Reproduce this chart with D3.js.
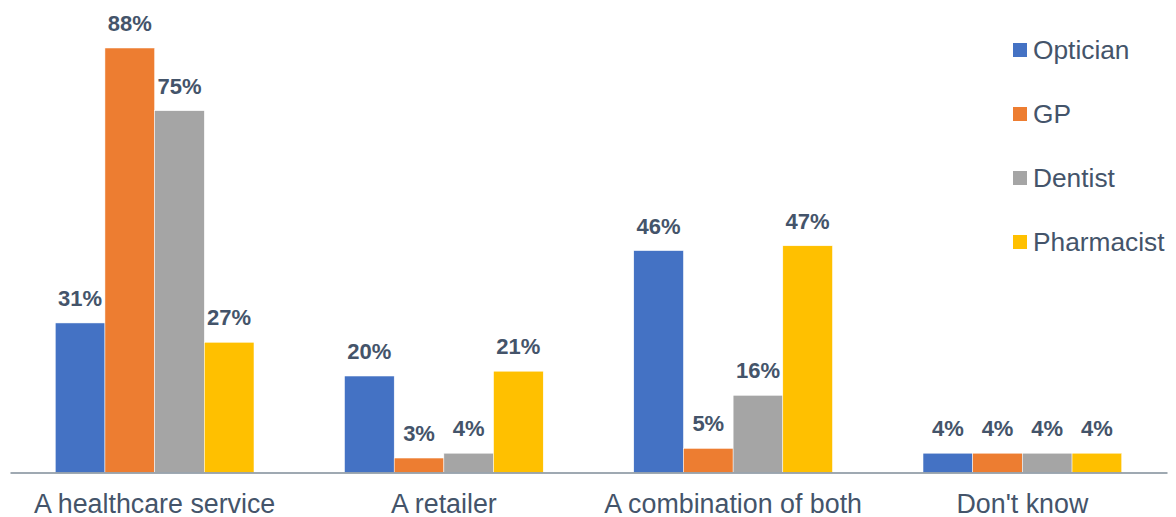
<!DOCTYPE html>
<html>
<head>
<meta charset="utf-8">
<script src="https://cdn.jsdelivr.net/npm/d3@7"></script>
<style>
  body { margin: 0; background: #fff; }
  svg { display: block; font-family: "Liberation Sans", Arial, sans-serif; }
</style>
</head>
<body>
<svg id="chart" width="1176" height="517"></svg>
<script>
// data
const categories = ["A healthcare service", "A retailer", "A combination of both", "Don't know"];
const seriesNames = ["Optician", "GP", "Dentist", "Pharmacist"];
const optician = [31, 20, 46, 4];
const gp = [88, 3, 5, 4];
const dentist = [75, 4, 16, 4];
const pharmacist = [27, 21, 47, 4];
const seriesColors = ["#4472C4", "#ED7D31", "#A5A5A5", "#FFC000"];

const series = [optician, gp, dentist, pharmacist];
const textColor = "#44546A";

const svg = d3.select("#chart");

const x0 = d3.scaleBand()
  .domain(categories)
  .range([10, 1167])
  .paddingInner(0.313)
  .paddingOuter(0.1565);

const x1 = d3.scaleBand()
  .domain(seriesNames)
  .range([0, x0.bandwidth()]);

const y = d3.scaleLinear()
  .domain([0, 88])
  .range([472.5, 48]);

// bars
const groups = svg.selectAll(".group")
  .data(categories)
  .enter()
  .append("g")
  .attr("class", "group")
  .attr("transform", d => `translate(${x0(d)},0)`);

groups.selectAll("rect")
  .data((c, ci) => seriesNames.map((s, si) => ({ s, si, v: series[si][ci] })))
  .enter()
  .append("rect")
  .attr("x", d => x1(d.s))
  .attr("width", x1.bandwidth())
  .attr("y", d => y(d.v))
  .attr("height", d => y(0) - y(d.v))
  .attr("fill", d => seriesColors[d.si])
  .attr("stroke", "#fff")
  .attr("stroke-width", 0.5);

groups.selectAll(".val")
  .data((c, ci) => seriesNames.map((s, si) => ({ s, si, v: series[si][ci] })))
  .enter()
  .append("text")
  .attr("class", "val")
  .attr("x", d => x1(d.s) + x1.bandwidth() / 2)
  .attr("y", d => y(d.v) - 17)
  .attr("text-anchor", "middle")
  .attr("font-size", 22)
  .attr("font-weight", "bold")
  .attr("fill", textColor)
  .text(d => d.v + "%");

// x axis
const xAxis = svg.append("g")
  .attr("transform", `translate(0,${y(0)})`)
  .call(d3.axisBottom(x0).tickSize(0).tickPadding(0));

xAxis.select(".domain")
  .attr("stroke", "#7F8C99")
  .attr("stroke-width", 1.5);

xAxis.selectAll(".tick text")
  .attr("dy", null)
  .attr("y", 40)
  .attr("font-size", 26.8)
  .attr("font-family", "Liberation Sans, Arial, sans-serif")
  .attr("fill", textColor);

// legend
const legend = svg.append("g")
  .selectAll("g")
  .data(seriesNames)
  .enter()
  .append("g")
  .attr("transform", (d, i) => `translate(1013,${50 + i * 64})`);

legend.append("rect")
  .attr("x", 0)
  .attr("y", -7)
  .attr("width", 14)
  .attr("height", 14)
  .attr("fill", (d, i) => seriesColors[i]);

legend.append("text")
  .attr("x", 20)
  .attr("y", 9)
  .attr("font-size", 26.3)
  .attr("fill", textColor)
  .text(d => d);
</script>
</body>
</html>
